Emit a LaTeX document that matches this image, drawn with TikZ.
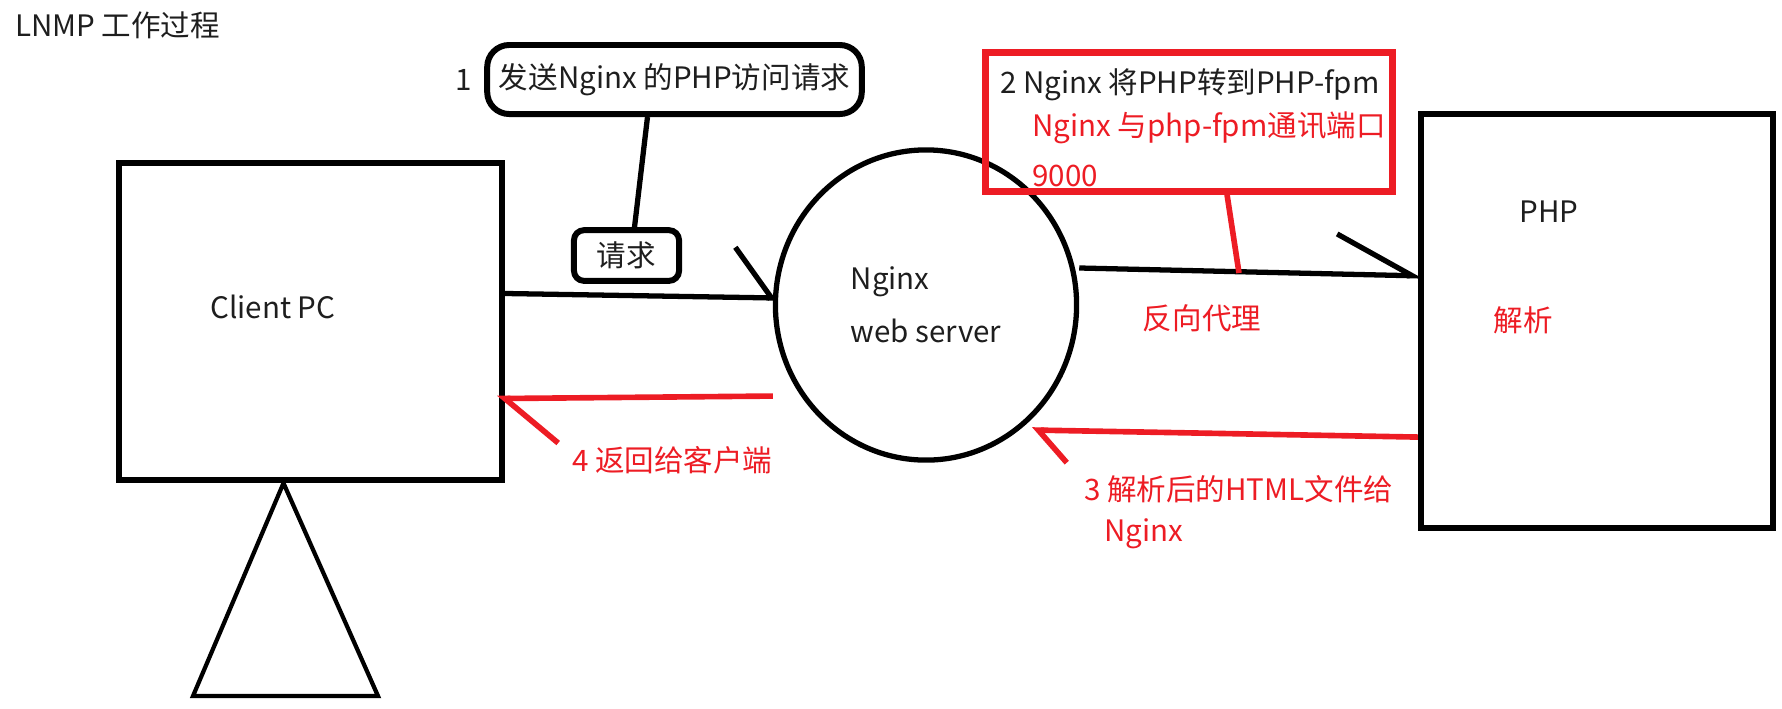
\documentclass[tikz,border=0pt]{standalone}
\usepackage{fontspec}
\setmainfont{Noto Sans CJK SC}
\usetikzlibrary{arrows.meta, positioning, shapes.geometric, calc}
\definecolor{paintred}{RGB}{237,28,36}
\definecolor{inkgray}{RGB}{30,30,30}

\begin{document}
\begin{tikzpicture}[x=0.01cm, y=-0.01cm, font=\fontsize{8.4}{10}\selectfont]
            \tikzstyle{pcbox} = [rectangle, draw=black, line width=1.7pt, inner sep=0pt]
            \tikzstyle{server} = [ellipse, draw=black, line width=1.5pt, minimum width=3.01cm, minimum height=3.1cm, align=left, text=inkgray, font=\fontsize{8.4}{15}\selectfont]
            \tikzstyle{bubble} = [rectangle, rounded corners=0.22cm, draw=black, line width=1.7pt, text=inkgray]
            \tikzstyle{redbox} = [rectangle, draw=paintred, line width=2pt, minimum width=4.06cm, minimum height=1.38cm]
            \tikzstyle{blacktext} = [text=inkgray, inner sep=1pt]
            \tikzstyle{redtext} = [text=paintred, inner sep=1pt]
            \tikzstyle{flow} = [line width=1.5pt]
            \tikzstyle{redflow} = [line width=1.6pt, draw=paintred]

            \useasboundingbox (0,0) rectangle (1782,708);

            \node (title) [blacktext, anchor=west] at (11,25) {LNMP 工作过程};

            \node (client) [pcbox, minimum width=3.83cm, minimum height=3.17cm] at (310.5,321.5) {};
            \node (clientname) [blacktext] at (273,307) {Client PC};
            \node (nginx) [server] at (926,305) {Nginx\\web server};
            \node (php) [pcbox, minimum width=3.52cm, minimum height=4.14cm] at (1597,321) {};
            \node (phpname) [blacktext] at (1549,212) {PHP};
            \node (parse) [redtext] at (1523,320) {解析};

            \node (callout) [bubble, minimum width=3.61cm, minimum height=0.69cm] at (674.5,79.5) {发送Nginx 的PHP访问请求};
            \node (stepone) [blacktext, left=0.08cm of callout] {1};
            \node (req) [bubble, rounded corners=0.1cm, minimum width=1.05cm, minimum height=0.45cm] at (626.5,255.5) {请求};

            \node (fpmbox) [redbox] at (1189,122) {};
            \node (steptwo) [blacktext, anchor=west] at (996,85) {2 Nginx 将PHP转到PHP-fpm};
            \node (port) [redtext, anchor=west] at (1028,128) {Nginx 与php-fpm通讯端口};
            \node (portnum) [redtext, anchor=west] at (1028,176) {9000};

            \node (proxy) [redtext] at (1202,318) {反向代理};
            \node (stepthree) [redtext, anchor=west] at (1080,489) {3 解析后的HTML文件给};
            \node (stepthreeb) [redtext, anchor=west] at (1100,534) {Nginx};
            \node (stepfour) [redtext, anchor=west] at (568,460) {4 返回给客户端};

            \coordinate (tap) at (1239,273);

            \draw [flow, -{Straight Barb[left, length=0.37cm, width=1cm]}] ([yshift=0.28cm]client.east) -- ([xshift=0.04cm, yshift=0.07cm]nginx.west);
            \draw [flow] ([xshift=-0.27cm]callout.south) -- ([xshift=0.08cm]req.north);
            \draw [flow, -{Straight Barb[left, length=0.76cm, width=0.8cm]}] ([yshift=0.37cm]nginx.east) -- ([xshift=0.05cm, yshift=0.45cm]php.west);
            \draw [redflow] ([xshift=0.38cm]fpmbox.south) -- (tap);
            \draw [redflow, -{Straight Barb[left, length=0.29cm, width=0.64cm]}] ([yshift=-1.16cm]php.west) -- ([shift={(106,125)}]nginx.center);
            \draw [redflow, -{Straight Barb[left, length=0.53cm, width=0.9cm]}] ([yshift=-0.91cm]nginx.west) -- ([xshift=-0.08cm, yshift=-0.77cm]client.east);

            % stand under the pc
            \draw [line width=1.2pt] ([xshift=-0.27cm]client.south) -- (193,696) -- (378,696) -- cycle;
        \end{tikzpicture}
\end{document}
